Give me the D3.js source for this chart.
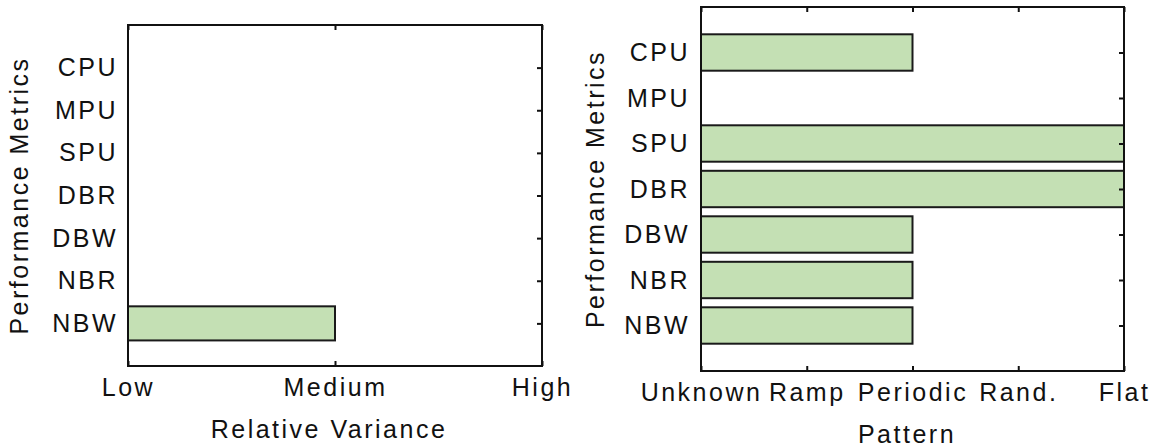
<!DOCTYPE html>
<html>
<head>
<meta charset="utf-8">
<script src="https://cdn.jsdelivr.net/npm/d3@7"></script>
<style>
  html, body { margin: 0; padding: 0; background: #fff; }
  svg { display: block; }
  text { font-family: "Liberation Sans", Arial, sans-serif; fill: #111; letter-spacing: 2.5px; }
</style>
</head>
<body>
<svg id="chart" width="1156" height="448"></svg>
<script>
// Metrics shown on the vertical axis (top to bottom)
const metrics = ["CPU", "MPU", "SPU", "DBR", "DBW", "NBR", "NBW"];

// Relative variance levels and each metric's level index
const varianceLevels = ["Low", "Medium", "High"];
const varianceValues = [0, 0, 0, 0, 0, 0, 1];

// Pattern classes and each metric's class index
const patternLevels = ["Unknown", "Ramp", "Periodic", "Rand.", "Flat"];
const patternValues = [2, 0, 4, 4, 2, 2, 2];

const svg = d3.select("#chart");
const FONT = 25;
const FONT_FAMILY = "'Liberation Sans', Arial, sans-serif";
const BAR_FILL = "#c4e0b4";

function panel(opts) {
  const { left, right, top, bottom, levels, values, xTitle, xTitleX, xTitleY, yTitleX, yPad } = opts;
  const g = svg.append("g");
  const n = metrics.length;

  const x = d3.scaleLinear().domain([0, levels.length - 1]).range([left, right]);
  const y = d3.scaleLinear().domain([0, n + 1]).range([bottom, top]);
  const pos = i => n - i;            // first metric at the top
  const barH = Math.abs(y(0.8) - y(0));

  // bars
  const rows = metrics.map((m, i) => ({ m, i, v: values[i] })).filter(d => d.v > 0);
  g.selectAll("rect.bar").data(rows).join("rect")
    .attr("class", "bar")
    .attr("x", x(0))
    .attr("y", d => y(pos(d.i)) - barH / 2)
    .attr("width", d => x(d.v) - x(0))
    .attr("height", barH)
    .attr("fill", BAR_FILL)
    .attr("stroke", "#1a1a1a")
    .attr("stroke-width", 2);

  const tickVals = d3.range(levels.length);

  // bottom axis: inward ticks + level labels
  const bx = g.append("g").attr("transform", `translate(0,${bottom})`)
    .call(d3.axisBottom(x).tickValues(tickVals).tickFormat(i => levels[i])
      .tickSize(-5).tickPadding(12));
  // top axis: inward ticks only
  const tx = g.append("g").attr("transform", `translate(0,${top})`)
    .call(d3.axisTop(x).tickValues(tickVals).tickFormat("").tickSize(-5));
  // right axis: inward ticks at each metric
  const ry = g.append("g").attr("transform", `translate(${right},0)`)
    .call(d3.axisRight(y).tickValues(metrics.map((m, i) => pos(i))).tickFormat("").tickSize(-5));
  // left axis: metric names only
  const ly = g.append("g").attr("transform", `translate(${left},0)`)
    .call(d3.axisLeft(y).tickValues(metrics.map((m, i) => pos(i)))
      .tickFormat(v => metrics[n - v]).tickSize(0).tickPadding(yPad));

  [bx, tx, ry, ly].forEach(a => {
    a.select(".domain").remove();
    a.selectAll(".tick line").attr("stroke", "#111").attr("stroke-width", 2);
    a.selectAll("text").style("font-size", FONT + "px")
      .style("font-family", FONT_FAMILY).attr("fill", "#111");
  });

  // axes box
  g.append("rect")
    .attr("x", left).attr("y", top)
    .attr("width", right - left).attr("height", bottom - top)
    .attr("fill", "none").attr("stroke", "#111").attr("stroke-width", 2);

  // titles
  g.append("text")
    .attr("x", xTitleX).attr("y", xTitleY)
    .attr("text-anchor", "middle").style("font-size", FONT + "px")
    .text(xTitle);
  g.append("text")
    .attr("transform", `translate(${yTitleX},${(top + bottom) / 2}) rotate(-90)`)
    .attr("text-anchor", "middle").style("font-size", FONT + "px")
    .text("Performance Metrics");
}

panel({
  left: 128, right: 542, top: 25, bottom: 366,
  levels: varianceLevels, values: varianceValues,
  xTitle: "Relative Variance", xTitleX: 329, xTitleY: 438, yTitleX: 28, yPad: 10
});

panel({
  left: 701, right: 1124, top: 7, bottom: 371,
  levels: patternLevels, values: patternValues,
  xTitle: "Pattern", xTitleX: 907, xTitleY: 443, yTitleX: 604, yPad: 11
});
</script>
</body>
</html>
